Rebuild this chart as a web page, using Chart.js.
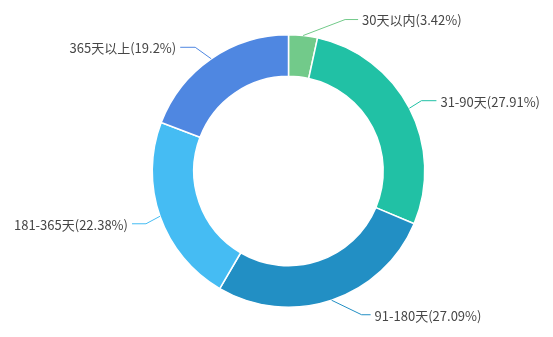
<!DOCTYPE html>
<html>
<head>
<meta charset="utf-8">
<script src="https://cdn.jsdelivr.net/npm/chart.js@4/dist/chart.umd.min.js"></script>
<style>
html,body{margin:0;padding:0;background:#fff;}
#wrap{width:553px;height:337px;position:relative;}
</style>
</head>
<body>
<div id="wrap"><canvas id="c" width="553" height="337"></canvas></div>
<script>
const categories = ['30天以内', '31-90天', '91-180天', '181-365天', '365天以上'];
const shares = [3.42, 27.91, 27.09, 22.38, 19.2];
const sliceColors = ['#72ca8a', '#21c1a5', '#228fc4', '#45bcf3', '#4f87e1'];

const leaderPlugin = {
  id: 'leaders',
  afterDatasetsDraw(chart, args, opts) {
    const ctx = chart.ctx;
    const meta = chart.getDatasetMeta(0);
    ctx.save();
    ctx.font = opts.font;
    ctx.textBaseline = 'middle';
    meta.data.forEach((arc, i) => {
      const p = arc.getProps(['x', 'y', 'startAngle', 'endAngle', 'outerRadius'], true);
      const mid = (p.startAngle + p.endAngle) / 2;
      const x0 = p.x + Math.cos(mid) * p.outerRadius;
      const y0 = p.y + Math.sin(mid) * p.outerRadius;
      const off = opts.elbow[i];
      const x1 = x0 + off[0], y1 = y0 + off[1];
      const side = Math.cos(mid) >= 0 ? 1 : -1;
      const x2 = x1 + side * opts.len2[i];
      ctx.strokeStyle = sliceColors[i];
      ctx.lineWidth = 1;
      ctx.beginPath();
      ctx.moveTo(x0, y0);
      ctx.lineTo(x1, y1);
      ctx.lineTo(x2, y1);
      ctx.stroke();
      ctx.fillStyle = opts.color;
      ctx.textAlign = side > 0 ? 'left' : 'right';
      ctx.fillText(categories[i] + '(' + shares[i] + '%)', x2 + side * 4, y1 + 1);
    });
    ctx.restore();
  }
};

new Chart(document.getElementById('c'), {
  type: 'doughnut',
  data: {
    labels: categories,
    datasets: [{
      data: shares,
      backgroundColor: sliceColors,
      borderColor: '#ffffff',
      borderWidth: 1.5,
      hoverOffset: 0
    }]
  },
  options: {
    responsive: false,
    animation: false,
    cutout: '69.5%',
    layout: { padding: { top: 34, bottom: 29, left: 30, right: 6 } },
    plugins: {
      legend: { display: false },
      tooltip: { enabled: false },
      leaders: {
        font: '13px "Noto Sans CJK SC", "Noto Sans", sans-serif',
        color: '#464646',
        elbow: [[42, -16], [12, -7.5], [30, 14.5], [-14, 7.5], [-16, -11.5]],
        len2: [13, 15, 9, 14, 15]
      }
    }
  },
  plugins: [leaderPlugin]
});
</script>
</body>
</html>
